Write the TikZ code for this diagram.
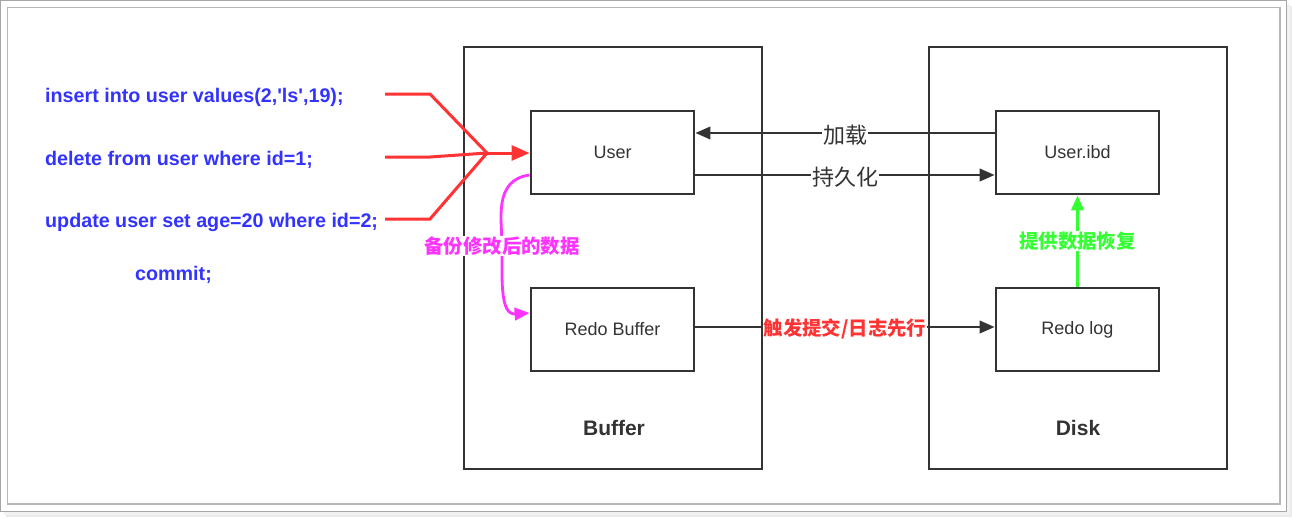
\documentclass[tikz,border=0pt]{standalone}
\usepackage{fontspec}
\setmainfont{Liberation Sans}
\newfontfamily\cjk{Noto Sans CJK SC}
\usetikzlibrary{arrows.meta}
\definecolor{dk}{HTML}{333333}
\definecolor{sqlblue}{HTML}{3333FF}
\definecolor{rd}{HTML}{FF3333}
\definecolor{mg}{HTML}{FF33FF}
\definecolor{gr}{HTML}{33FF33}
\tikzset{
  box/.style={draw=dk, line width=2.8pt, minimum width=163pt, minimum height=83pt, inner sep=0pt, font=\fontsize{18}{21}\selectfont, text=dk},
  bigbox/.style={draw=dk, line width=2.8pt, minimum width=298pt, minimum height=422pt, inner sep=0pt},
  sql/.style={anchor=west, text=sqlblue, font=\bfseries\fontsize{19.7}{24}\selectfont, inner sep=0pt},
  conn/.style={draw=dk, line width=2.6pt, -{Triangle[length=15pt,width=15pt,angle'=45]}},
  lbl/.style={fill=white, inner sep=1pt, font=\cjk\fontsize{22}{26}\selectfont, text=dk},
  clbl/.style={fill=white, inner sep=1pt, font=\cjk\bfseries\fontsize{19.4}{23}\selectfont},
  title/.style={font=\bfseries\fontsize{21}{25}\selectfont, text=dk}
}
\begin{document}
\begin{tikzpicture}[x=1pt,y=-1pt]
\useasboundingbox (0,0) rectangle (1292,517);
% shadow and frame
\fill[black!8] (6,6) rectangle (1292,517);
\fill[black!5] (4,4) rectangle (1290,515);
\fill[white] (0.5,0.5) rectangle (1286,511);
\draw[black!35, line width=1pt] (0.5,0.5) rectangle (1286,511);
\draw[black!28, line width=1.8pt] (7.5,7.5) rectangle (1280,504);
% big boxes
\node[bigbox] (buf) at (613,258) {};
\node[bigbox] (disk) at (1078,258) {};
\node[title] (buft) at (614,428) {Buffer};
\node[title] (diskt) at (1078,428) {Disk};
% inner boxes
\node[box] (user) at (612.5,152.5) {\raisebox{-2pt}{User}};
\node[box] (redob) at (612.5,329.5) {\raisebox{-2pt}{Redo Buffer}};
\node[box] (ibd) at (1077.5,152.5) {\raisebox{-2pt}{User.ibd}};
\node[box] (redol) at (1077.5,329.5) {\raisebox{-2pt}{Redo log}};
% sql text
\node[sql] (s1) at (45,97) {insert into user values(2,\textquotesingle ls\textquotesingle,19);};
\node[sql] (s2) at (45,160) {delete from user where id=1;};
\node[sql] (s3) at (45,222) {update user set age=20 where id=2;};
\node[sql] (s4) at (135,275) {commit;};
% red lines
\coordinate (r1) at (385,94);
\coordinate (r2) at (385,157);
\coordinate (r3) at (385,219);
\coordinate (rj) at (487,153);
\draw[rd, line width=3pt] (r1) -- (430,94) -- (rj);
\draw[rd, line width=3pt] (r2) -- (430,157) -- (rj);
\draw[rd, line width=3pt] (r3) -- (430,219) -- (rj);
\draw[rd, line width=3pt, -{Triangle[length=18pt,width=18pt,angle'=45]}] (rj) -- (user.west |- rj);
% connectors
\draw[conn] (ibd.west |- 0,133) -- node[lbl, yshift=-2pt] (l1) {加载} (user.east |- 0,133);
\draw[conn] (user.east |- 0,175) -- node[lbl, yshift=-2pt] (l2) {持久化} (ibd.west |- 0,175);
\draw[conn] (redob.east |- 0,327) -- node[clbl, text=rd, yshift=-2pt] (l3) {触发提交/日志先行} (redol.west |- 0,327);
\draw[gr, line width=3pt, -{Triangle[length=15pt,width=15pt,angle'=45]}] (redol.north) -- node[clbl, text=gr] (l4) {提供数据恢复} (ibd.south);
% magenta curve
\draw[mg, line width=2.8pt, -{Triangle[length=15pt,width=15pt,angle'=45]}] (user.west |- 0,175) .. controls (493,180) and (502,220) .. (502,246) .. controls (502,280) and (500,315) .. (redob.west |- 0,313);
\node[clbl, text=mg] (l5) at (502,246) {备份修改后的数据};
\end{tikzpicture}
\end{document}
